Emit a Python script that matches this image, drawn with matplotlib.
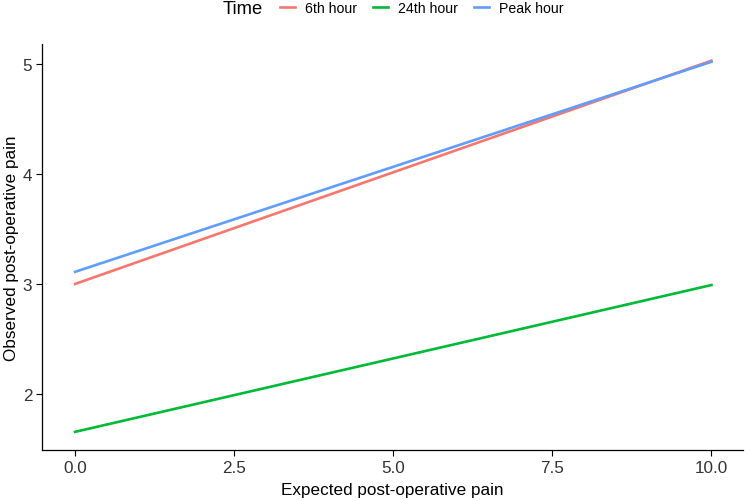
import numpy as np
import matplotlib.pyplot as plt
from matplotlib.lines import Line2D

plt.rcParams['font.family'] = ['Liberation Sans', 'DejaVu Sans']

# fitted lines: value at expected pain 0 and 10
x_ends = [0, 10]
series = ["6th hour", "24th hour", "Peak hour"]
y_6th = [3.00, 5.03]
y_24th = [1.655, 2.99]
y_peak = [3.11, 5.02]
colors = ["#F8766D", "#00BA38", "#619CFF"]

fig = plt.figure(figsize=(7.5, 5.02), dpi=100)
ax = fig.add_axes([0.056, 0.1016, 0.935, 0.8084])

x = np.linspace(x_ends[0], x_ends[1], 50)
for ys, c, name in zip([y_6th, y_24th, y_peak], colors, series):
    y = np.interp(x, x_ends, ys)
    ax.plot(x, y, color=c, lw=1.9, label=name)

ax.set_xlim(-0.52, 10.5)
ax.set_ylim(1.49, 5.18)
ax.set_xticks([0, 2.5, 5, 7.5, 10])
ax.set_xticklabels(["0.0", "2.5", "5.0", "7.5", "10.0"])
ax.set_yticks([2, 3, 4, 5])
ax.tick_params(labelsize=12.3, colors="#333333", length=4, width=0.8, pad=3)
ax.tick_params(axis="both", color="black")
for s in ["top", "right"]:
    ax.spines[s].set_visible(False)
for s in ["left", "bottom"]:
    ax.spines[s].set_linewidth(0.9)
ax.set_xlabel("Expected post-operative pain", fontsize=12.3, labelpad=5)
ax.set_ylabel("Observed post-operative pain", fontsize=12.3, labelpad=3)

fig.text(0.297, 0.982, "Time", fontsize=13.2, ha="left", va="center")
handles = [Line2D([], [], color=c, lw=1.9) for c in colors]
fig.legend(handles, series, loc="center left", bbox_to_anchor=(0.373, 0.982),
           ncol=3, frameon=False, fontsize=10.2, handlelength=1.05,
           handletextpad=0.7, columnspacing=1.15, borderaxespad=0, borderpad=0)

fig.savefig("out.png", dpi=100)
